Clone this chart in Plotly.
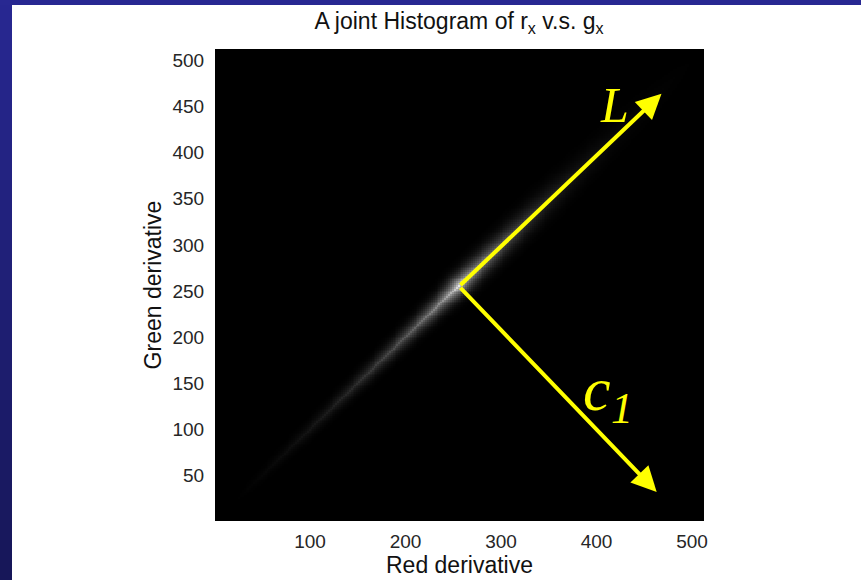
import numpy as np
import plotly.graph_objects as go

# ---- data -------------------------------------------------------------
# Streak of the joint histogram, described along the diagonal r_x = g_x:
# position along the diagonal, brightness of the ridge (0-255) and the
# perpendicular spread of the ridge (in histogram bins).
diag_pos = [20, 40, 60, 80, 100, 120, 140, 160, 180, 200, 220, 240, 250,
            256, 262, 270, 290, 310, 330, 350, 380, 420, 470, 510]
ridge_level = [0, 4, 9, 14, 21, 29, 40, 54, 70, 90, 115, 150, 190,
               235, 195, 160, 118, 84, 58, 38, 21, 9, 3, 0]
ridge_spread = [5, 5.5, 6, 6.5, 7, 7, 7.5, 8, 8, 8.5, 9, 9.5, 10,
                10.5, 10.5, 11, 11.5, 12, 12.5, 13, 13, 13.5, 13.5, 13.5]

x_ticks = [100, 200, 300, 400, 500]
y_ticks = [50, 100, 150, 200, 250, 300, 350, 400, 450, 500]

# Principal directions drawn over the histogram (start point, tips)
origin = (256, 255)
L_tip = (468, 464)
c1_tip = (463, 32)

# ---- histogram grid ---------------------------------------------------
centers = np.arange(1.5, 512, 2.0)
X, Y = np.meshgrid(centers, centers)
t = (X + Y) / 2.0
d = np.abs(Y - X) / np.sqrt(2.0)
level = np.interp(t, diag_pos, ridge_level)
spread = np.interp(t, diag_pos, ridge_spread)
core = np.exp(-d / (0.35 * spread))
halo = np.exp(-(d / spread) ** 2)
Z = np.clip(level * (0.5 * core + 0.5 * halo), 0, 255).astype(np.uint8)

# ---- figure -----------------------------------------------------------
W, H = 861, 580
ml, mr, mt, mb = 215, 157, 49, 59
pw, ph = W - ml - mr, H - mt - mb


def px_x(p):
    return (p - ml) / pw


def px_y(p):
    return (H - mb - p) / ph


fig = go.Figure()
fig.add_trace(go.Heatmap(
    x=centers, y=centers, z=Z,
    colorscale=[[0, "#000000"], [1, "#ffffff"]],
    zmin=0, zmax=255, showscale=False, hoverinfo="skip",
))

# slide frame: blue gradient strip on the left and along the top
shapes = []
n_bands = 29
top_rgb = np.array([40, 40, 146])
bot_rgb = np.array([23, 23, 88])
for i in range(n_bands):
    f0, f1 = i / n_bands, (i + 1) / n_bands
    c = top_rgb + (bot_rgb - top_rgb) * (f0 + f1) / 2
    col = "rgb(%d,%d,%d)" % tuple(c.astype(int))
    shapes.append(dict(type="rect", xref="paper", yref="paper",
                       x0=px_x(0), x1=px_x(12),
                       y0=px_y(min(H, H * f1 + 2)), y1=px_y(H * f0),
                       fillcolor=col, line=dict(width=0), layer="below"))
shapes.append(dict(type="rect", xref="paper", yref="paper",
                   x0=px_x(0), x1=px_x(W), y0=px_y(5), y1=px_y(0),
                   fillcolor="rgb(40,40,146)", line=dict(width=0), layer="below"))

yellow = "#ffff00"
annotations = []
for tip in (L_tip, c1_tip):
    annotations.append(dict(
        x=tip[0], y=tip[1], ax=origin[0], ay=origin[1],
        xref="x", yref="y", axref="x", ayref="y",
        text="", showarrow=True, arrowhead=2, arrowsize=1.25,
        arrowwidth=4, arrowcolor=yellow, standoff=0, startstandoff=0,
    ))

serif = "Liberation Serif, Times New Roman, serif"
annotations += [
    dict(x=419, y=452, xref="x", yref="y", text="<i>L</i>",
         showarrow=False, font=dict(family=serif, size=50, color=yellow)),
    dict(x=400, y=144, xref="x", yref="y", text="<i>c</i>",
         showarrow=False, font=dict(family=serif, size=62, color=yellow)),
    dict(x=427, y=122, xref="x", yref="y", text="<i>1</i>",
         showarrow=False, font=dict(family=serif, size=44, color=yellow)),
]

sans = "Liberation Sans, Arial, Helvetica, sans-serif"
fig.update_layout(
    width=W, height=H,
    margin=dict(l=ml, r=mr, t=mt, b=mb, pad=0),
    paper_bgcolor="#ffffff", plot_bgcolor="#000000",
    font=dict(family=sans, color="#262626"),
    title=dict(text="A joint Histogram of r<sub>x</sub> v.s. g<sub>x</sub>",
               x=px_x(459), xref="paper", xanchor="center",
               y=1 - 21 / H, yanchor="middle",
               font=dict(size=23, color="#111111")),
    xaxis=dict(range=[0.5, 512.5], tickvals=x_ticks, automargin=False,
               ticks="outside", ticklen=3, tickcolor="rgba(0,0,0,0)",
               showgrid=False, zeroline=False, showline=False,
               tickfont=dict(size=19), title=dict(text="Red derivative",
               font=dict(size=23, color="#111111"), standoff=4)),
    yaxis=dict(range=[0.5, 512.5], tickvals=y_ticks, automargin=False,
               ticks="outside", ticklen=6, tickcolor="rgba(0,0,0,0)",
               showgrid=False, zeroline=False, showline=False,
               tickfont=dict(size=19), title=dict(text="Green derivative",
               font=dict(size=23, color="#111111"), standoff=4)),
    shapes=shapes, annotations=annotations,
)

fig.write_html("out.html")
